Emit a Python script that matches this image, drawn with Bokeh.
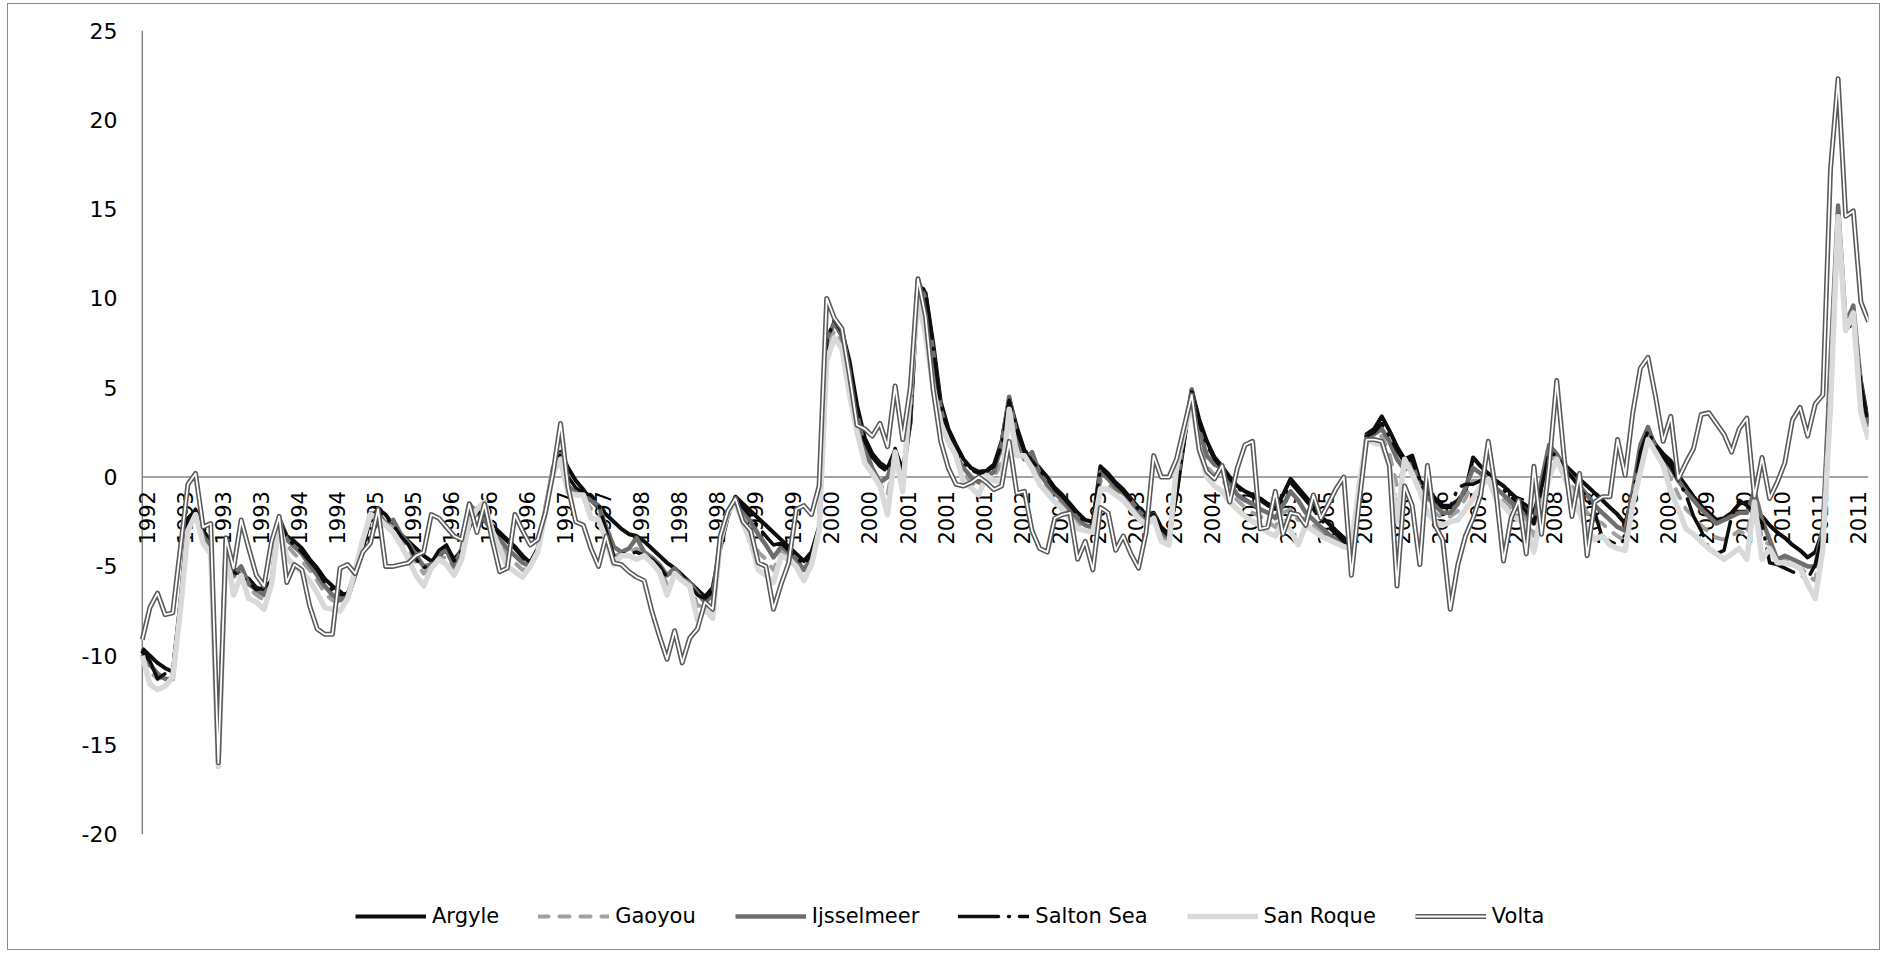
import math
from bokeh.plotting import figure
from bokeh.models import Range1d, FixedTicker, Legend, LegendItem, ColumnDataSource
from bokeh.core.properties import value
from bokeh.embed import file_html
from bokeh.resources import INLINE

# ---------------- data (monthly, Sep 1992 .. Aug 2011) ----------------
year_labels = ["1992", "1993", "1993", "1993", "1994", "1994", "1995", "1995",
               "1996", "1996", "1996", "1997", "1997", "1998", "1998", "1998",
               "1999", "1999", "2000", "2000", "2001", "2001", "2001", "2002",
               "2002", "2003", "2003", "2003", "2004", "2004", "2005", "2005",
               "2006", "2006", "2006", "2007", "2007", "2008", "2008", "2008",
               "2009", "2009", "2010", "2010", "2011", "2011"]
label_every = 5
y_ticks = [-20, -15, -10, -5, 0, 5, 10, 15, 20, 25]
y_tick_labels = ["-20", "-15", "-10", "-5", "0", "5", "10", "15", "20", "25"]

argyle = [
    -9.6, -10.0, -10.4, -10.7, -10.9, -7.0, -2.3, -1.9, -3.0, -3.6,
    -15.5, -3.5, -5.1, -5.5, -5.7, -6.2, -6.3, -5.9, -2.3, -3.3,
    -3.6, -4.0, -4.6, -5.1, -5.7, -6.1, -6.4, -6.8, -5.5, -4.0,
    -2.3, -1.8, -2.1, -2.7, -3.2, -3.6, -4.0, -4.4, -4.7, -4.5,
    -3.9, -4.6, -4.1, -2.8, -1.9, -2.2, -2.7, -3.1, -3.5, -3.9,
    -4.4, -4.8, -4.0, -2.0, 0.3, 1.4, 0.5, -0.2, -0.7, -1.3,
    -1.7, -2.1, -2.5, -2.9, -3.2, -3.3, -3.6, -4.0, -4.4, -4.8,
    -5.1, -5.5, -5.9, -6.3, -6.7, -6.2, -4.0, -2.2, -1.1, -1.5,
    -1.9, -2.3, -2.7, -3.1, -3.5, -3.9, -4.3, -4.7, -4.2, -2.8,
    7.5, 8.7, 8.2, 6.5, 4.0, 2.2, 1.3, 0.8, 0.5, 1.5,
    0.4, 3.0, 10.8, 10.3, 7.5, 4.2, 2.7, 1.8, 1.0, 0.5,
    0.3, 0.35, 0.7, 2.0, 4.4, 2.8, 1.5, 1.0, 0.5, 0.0,
    -0.6, -1.0, -1.5, -2.0, -2.4, -2.5, 0.6, 0.2, -0.3, -0.7,
    -1.2, -1.7, -2.1, -2.0, -2.8, -3.2, -1.0, 2.0, 4.9, 3.2,
    2.0, 1.1, 0.6, 0.0, -0.5, -0.8, -1.0, -1.2, -1.5, -1.7,
    -1.0, -0.1, -0.6, -1.1, -1.6, -2.2, -2.6, -3.0, -3.4, -3.7,
    -1.0, 2.4, 2.7, 3.4, 2.6, 1.7, 1.0, 1.2, -0.2, -0.6,
    -1.2, -1.6, -1.6, -1.3, -0.8, 1.1, 0.6, 0.2, -0.2, -0.5,
    -0.9, -1.3, -1.6, -2.0, -0.5, 1.3, 1.2, 0.7, 0.3, -0.1,
    -0.5, -0.9, -1.3, -1.7, -2.1, -2.6, -1.0, 1.6, 2.6, 1.8,
    1.3, 0.9, 0.1, -0.5, -1.1, -1.6, -2.0, -2.4, -2.3, -2.0,
    -1.5, -1.4, -1.8, -2.2, -2.7, -3.1, -3.4, -3.8, -4.1, -4.5,
    -4.2, -3.0, 6.0, 15.0, 8.3, 8.6, 5.4, 3.0]

gaoyou = [
    -10.1, -10.9, -11.3, -11.2, -11.0, -7.2, -2.8, -2.2, -3.5, -4.0,
    -15.9, -3.8, -5.6, -5.3, -6.2, -6.6, -6.9, -5.9, -2.4, -3.8,
    -4.3, -4.7, -5.2, -5.8, -6.5, -6.9, -7.0, -6.7, -5.4, -3.6,
    -2.0, -2.1, -2.6, -2.8, -3.4, -4.0, -4.8, -5.4, -5.0, -4.5,
    -4.5, -5.2, -4.3, -2.0, -1.7, -1.8, -2.8, -3.7, -4.4, -4.8,
    -5.2, -5.0, -4.1, -1.9, 0.4, 1.2, -0.7, -1.0, -1.1, -1.8,
    -2.0, -3.2, -4.4, -4.3, -4.2, -4.0, -4.3, -4.6, -5.1, -6.0,
    -5.2, -5.8, -6.0, -7.2, -7.2, -7.3, -3.6, -2.0, -1.3, -2.2,
    -3.0, -4.2, -4.6, -5.2, -4.2, -4.4, -4.8, -5.5, -4.7, -3.0,
    7.2, 8.2, 7.6, 5.2, 3.0, 1.2, 0.4, -0.4, -1.0, 1.3,
    -0.4, 4.0, 10.5, 9.2, 6.2, 3.4, 2.1, 1.2, 0.2, -0.3,
    -0.6, 0.0, 0.0, 0.8, 4.2, 1.8, 1.1, 0.9, -0.1, -0.6,
    -1.1, -1.5, -2.0, -2.6, -2.8, -2.9, -0.2, -0.4, -0.8, -1.1,
    -1.5, -2.1, -2.5, -2.2, -3.3, -3.6, -0.2, 2.4, 4.6, 2.0,
    0.6, 0.1, -0.1, -0.8, -1.3, -1.7, -2.0, -2.2, -2.5, -2.8,
    -2.0, -1.8, -2.4, -2.3, -2.7, -3.0, -3.3, -3.6, -3.8, -3.9,
    -0.6, 2.2, 2.2, 2.3, 1.3, -0.5, 0.6, 0.2, -0.7, -1.5,
    -2.0, -2.3, -2.2, -1.9, -1.2, -0.2, -0.2, -0.2, -0.9, -1.3,
    -1.7, -2.1, -2.4, -3.3, -1.0, 1.0, 1.1, 0.3, -0.5, -1.2,
    -2.0, -2.4, -2.6, -3.0, -3.3, -3.6, -1.2, 1.0, 2.5, 1.5,
    0.8, -0.1, -1.0, -1.8, -2.2, -2.7, -3.1, -3.4, -3.5, -3.3,
    -3.0, -3.3, -1.1, -3.5, -3.8, -4.7, -4.6, -4.8, -5.0, -5.5,
    -5.8, -3.4, 5.0, 14.8, 8.4, 9.4, 4.5, 2.5]

ijsselmeer = [
    -9.9, -10.5, -11.0, -11.3, -11.3, -7.3, -2.6, -2.0, -3.3, -3.9,
    -15.8, -3.6, -5.5, -5.0, -6.0, -6.3, -6.6, -5.8, -2.3, -3.5,
    -3.9, -4.3, -4.9, -5.5, -6.1, -6.6, -6.9, -6.6, -5.3, -3.6,
    -2.1, -2.0, -2.6, -2.4, -3.2, -3.7, -4.4, -5.0, -4.9, -4.3,
    -4.1, -5.0, -4.0, -1.5, -2.0, -2.4, -3.0, -3.5, -4.0, -4.4,
    -4.8, -5.0, -4.1, -1.8, 0.5, 1.3, -0.5, -0.9, -1.0, -1.3,
    -1.6, -2.8, -3.9, -4.2, -4.0, -3.4, -4.2, -4.5, -4.9, -5.5,
    -5.1, -5.7, -5.9, -6.5, -7.0, -6.6, -3.5, -1.9, -1.2, -1.8,
    -2.5, -3.2, -3.8, -4.5, -3.9, -4.2, -4.6, -5.2, -4.5, -2.9,
    7.8, 8.6, 7.9, 5.8, 3.5, 1.6, 0.5, -0.3, 0.0, 1.2,
    0.0, 3.2, 11.0, 10.0, 7.0, 3.8, 2.2, 1.2, 0.5, 0.0,
    -0.3, 0.0, 0.3, 1.8, 4.5, 2.3, 1.0, 1.4, 0.2, -0.4,
    -0.9, -1.3, -1.8, -2.3, -2.7, -2.8, 0.3, -0.1, -0.6, -0.9,
    -1.3, -1.9, -2.3, -2.1, -3.1, -3.4, -0.6, 2.3, 4.9, 2.6,
    1.2, 0.7, 0.5, -0.3, -1.0, -1.3, -1.5, -1.8, -2.0, -2.3,
    -1.6, -0.8, -1.3, -2.0, -2.4, -2.8, -3.2, -3.5, -3.7, -3.9,
    -0.8, 2.3, 2.4, 2.7, 2.0, 1.0, 0.4, 0.8, -0.6, -1.1,
    -1.6, -2.0, -2.0, -1.5, -0.6, 0.5, 0.2, -0.2, -0.6, -1.0,
    -1.4, -1.8, -2.1, -2.6, -0.2, 1.8, 1.3, 0.5, 0.0, -0.5,
    -1.0, -1.6, -2.0, -2.4, -2.8, -3.0, -0.8, 1.8, 2.8, 1.6,
    1.0, 0.5, -0.2, -0.8, -1.3, -1.8, -2.2, -2.6, -2.4, -2.2,
    -2.0, -2.0, -0.8, -2.4, -3.5, -4.6, -4.4, -4.6, -4.8, -5.0,
    -5.0, -2.8, 6.5, 15.2, 8.6, 9.6, 5.2, 2.8]

salton_sea = [
    -9.8, -10.3, -11.3, -11.0, -10.7, -7.2, -2.4, -1.8, -2.8, -3.4,
    -15.4, -3.4, -5.3, -5.6, -5.9, -6.3, -6.2, -5.8, -2.4, -3.4,
    -3.8, -4.2, -4.7, -5.2, -5.9, -6.3, -6.6, -6.5, -5.4, -3.8,
    -2.2, -1.9, -2.2, -2.7, -3.3, -3.8, -4.6, -5.1, -4.8, -4.1,
    -3.8, -4.7, -4.1, -2.6, -1.9, -2.3, -2.8, -3.2, -3.6, -4.0,
    -4.5, -4.9, -4.0, -2.0, 0.3, 1.3, 0.0, -0.6, -0.9, -1.0,
    -1.5, -3.0, -4.4, -4.3, -4.3, -4.2, -4.4, -4.6, -5.0, -5.6,
    -5.4, -5.8, -6.1, -6.6, -6.8, -6.4, -3.8, -2.1, -1.1, -1.7,
    -2.2, -2.8, -3.3, -3.8, -3.7, -4.1, -4.5, -4.9, -4.3, -2.8,
    7.6, 8.8, 8.1, 6.2, 3.8, 2.0, 1.1, 0.6, 0.3, 1.6,
    0.2, 3.1, 10.9, 10.4, 7.3, 4.0, 2.5, 1.6, 0.8, 0.4,
    0.2, 0.3, 0.6, 1.8, 4.3, 2.6, 1.4, 0.9, 0.4, -0.1,
    -0.7, -1.1, -1.6, -2.1, -2.5, -2.6, 0.5, 0.1, -0.4, -0.8,
    -1.3, -1.8, -2.2, -2.1, -2.9, -3.3, -1.0, 2.0, 4.8, 3.0,
    1.8, 1.0, 0.5, -0.1, -0.6, -0.9, -1.1, -1.3, -1.6, -1.8,
    -1.2, -0.3, -0.8, -1.3, -1.8, -2.4, -2.8, -3.2, -3.6, -3.9,
    -1.2, 2.3, 2.5, 3.0, 2.3, 1.5, 0.8, 1.0, -0.4, -0.8,
    -1.3, -1.7, -1.7, -0.6, -0.4, -0.4, -0.2, 0.0, -0.4, -0.7,
    -1.1, -1.5, -1.9, -2.6, -0.6, 1.4, 1.2, 0.5, 0.0, -0.6,
    -1.2, -2.0, -3.4, -3.6, -3.8, -3.5, -1.2, 1.4, 2.6, 1.7,
    1.1, 0.6, -0.2, -1.0, -2.2, -3.0, -4.0, -4.3, -4.1, -2.2,
    -1.3, -1.6, -2.0, -2.6, -4.8, -4.9, -5.1, -5.3, -5.5, -5.7,
    -4.9, -3.2, 5.5, 14.8, 8.4, 8.9, 5.2, 2.9]

san_roque = [
    -10.0, -11.6, -11.9, -11.7, -11.2, -7.5, -3.0, -2.1, -3.7, -4.3,
    -16.2, -4.0, -6.6, -5.5, -6.8, -7.0, -7.4, -6.0, -2.5, -4.5,
    -5.0, -5.3, -5.8, -6.5, -7.3, -7.4, -7.5, -6.8, -5.2, -3.5,
    -2.1, -2.3, -2.7, -3.1, -3.8, -4.6, -5.5, -6.1, -5.1, -4.6,
    -4.9, -5.5, -4.6, -2.5, -1.8, -1.4, -3.0, -4.0, -5.0, -5.3,
    -5.6, -5.0, -4.2, -2.0, 0.2, 1.0, -0.9, -1.0, -1.0, -2.3,
    -2.4, -3.5, -4.9, -4.4, -4.4, -4.6, -4.4, -4.8, -5.3, -6.6,
    -5.4, -5.8, -6.1, -8.0, -7.4, -7.9, -3.6, -2.0, -1.4, -2.6,
    -3.6, -5.2, -5.5, -5.9, -4.4, -4.6, -5.0, -5.8, -4.9, -3.0,
    6.5, 7.8, 7.2, 4.6, 2.5, 0.8, 0.2, -0.5, -2.1, 1.4,
    -0.8, 4.9, 10.0, 8.0, 5.0, 3.0, 2.0, 1.2, -0.3, -0.6,
    -1.0, 0.1, -0.2, -0.3, 3.8, 1.2, 1.2, 0.5, -0.4, -0.9,
    -1.4, -1.8, -2.3, -2.9, -3.0, -3.1, -0.65, -0.7, -1.0, -1.3,
    -1.8, -2.3, -2.7, -2.3, -3.6, -3.8, 0.5, 2.5, 4.2, 1.5,
    0.0, -0.5, -0.8, -1.4, -1.8, -2.2, -2.5, -2.7, -3.1, -3.3,
    -2.5, -3.0, -3.8, -2.7, -3.0, -3.3, -3.5, -3.7, -3.9, -4.0,
    -0.5, 2.1, 1.9, 1.8, 0.65, -2.5, 1.0, 0.2, -0.8, -2.0,
    -2.5, -2.7, -2.5, -2.4, -1.8, -1.2, -0.5, -0.1, -1.2, -1.6,
    -2.1, -2.4, -2.7, -4.2, -2.0, 0.0, 1.0, 0.0, -1.0, -2.0,
    -3.0, -3.5, -3.3, -3.8, -4.0, -4.1, -1.5, 0.3, 2.1, 1.4,
    0.65, -0.8, -1.8, -2.9, -3.2, -3.6, -4.0, -4.3, -4.6, -4.3,
    -4.0, -4.6, -1.4, -4.6, -4.0, -4.8, -4.8, -4.9, -5.1, -6.0,
    -6.8, -4.0, 4.0, 14.6, 8.2, 9.2, 3.6, 2.1]

volta = [
    -9.1, -7.3, -6.5, -7.7, -7.6, -4.0, -0.4, 0.2, -2.8, -2.6,
    -16.0, -3.4, -5.1, -2.4, -4.0, -5.5, -6.1, -3.6, -2.2, -5.9,
    -4.9, -5.2, -7.2, -8.5, -8.8, -8.8, -5.1, -4.9, -5.4, -4.2,
    -3.7, -1.8, -5.0, -5.0, -4.9, -4.8, -4.4, -4.2, -2.1, -2.3,
    -2.8, -3.3, -3.5, -1.5, -3.1, -1.5, -3.5, -5.3, -5.1, -2.1,
    -3.0, -3.8, -3.5, -2.0, 0.2, 3.0, -0.6, -2.5, -2.7, -4.0,
    -5.0, -3.3, -4.8, -4.9, -5.3, -5.6, -5.8, -7.5, -8.9, -10.2,
    -8.6, -10.4, -9.0, -8.5, -7.0, -7.4, -3.3, -1.9, -1.2, -2.5,
    -3.0, -4.8, -5.0, -7.4, -6.0, -4.8, -1.8, -1.6, -2.1, -0.5,
    10.0, 8.9, 8.3, 5.7, 2.9, 2.7, 2.3, 3.0, 1.7, 5.1,
    2.1, 5.0, 11.1, 9.0, 4.9, 2.0, 0.5, -0.4, -0.5, -0.3,
    0.0, -0.3, -0.7, -0.5, 2.0, -0.9, -0.8, -3.0, -4.0, -4.2,
    -2.3, -2.1, -2.0, -4.6, -3.6, -5.2, -1.7, -2.0, -4.1, -3.3,
    -4.3, -5.1, -3.1, 1.2, 0.0, 0.0, 1.0, 2.8, 4.6, 1.5,
    0.3, -0.1, 0.65, -1.4, 0.5, 1.8, 2.0, -2.9, -2.8, -0.8,
    -3.2, -2.0, -2.1, -2.7, -1.0, -2.3, -1.5, -0.65, 0.0, -5.5,
    -1.5, 2.1, 2.1, 2.0, 0.65, -6.1, -0.5, -1.6, -4.9, 0.65,
    -2.7, -3.5, -7.4, -4.9, -3.3, -2.3, -1.0, 2.0, -0.8, -4.7,
    -2.3, -1.3, -4.3, 0.6, -3.2, 0.65, 5.4, 1.0, -2.2, 0.2,
    -4.4, -1.4, -1.1, -1.1, 2.1, 0.1, 3.6, 6.1, 6.7, 4.5,
    2.0, 3.4, -0.1, 0.8, 1.6, 3.5, 3.6, 3.0, 2.4, 1.4,
    2.7, 3.3, -1.1, 1.1, -1.2, -0.3, 0.8, 3.2, 3.9, 2.3,
    4.1, 4.6, 17.2, 22.3, 14.6, 14.9, 9.8, 8.7]

# ---------------- figure ----------------
n = len(argyle)
month = list(range(n))
src = ColumnDataSource(dict(month=month, argyle=argyle, gaoyou=gaoyou,
                            ijsselmeer=ijsselmeer, salton=salton_sea,
                            sanroque=san_roque, volta=volta))

AX = "#868686"
FONT = "DejaVu Sans"

# the frame reaches down to the legend row; the value axis itself spans -20..25
p = figure(width=1873, height=947, output_backend="svg", toolbar_location=None,
           x_range=Range1d(-3, n - 1), y_range=Range1d(-26.0, 25),
           x_axis_location=None,
           min_border_left=111, min_border_right=13,
           min_border_top=26, min_border_bottom=10)
p.styles = {"border": "1px solid #8c8c8c", "margin": "3px 0px 0px 7px"}
p.outline_line_color = None
p.xgrid.visible = False
p.ygrid.visible = False
p.background_fill_color = "white"
p.border_fill_color = "white"

ya = p.yaxis[0]
ya.ticker = FixedTicker(ticks=y_ticks)
ya.major_label_overrides = {t: lab for t, lab in zip(y_ticks, y_tick_labels)}
ya.major_label_text_font = FONT
ya.major_label_text_font_size = "22px"
ya.major_label_text_color = "#000000"
ya.major_label_standoff = -4
ya.major_tick_line_color = None
ya.minor_tick_line_color = None
ya.axis_line_color = None

# axis lines (value axis at the first month, category axis on zero)
p.segment(x0=[month[0]], y0=[y_ticks[0]], x1=[month[0]], y1=[y_ticks[-1]],
          line_color=AX, line_width=1.5)
p.segment(x0=[month[0]], y0=[0], x1=[month[-1]], y1=[0],
          line_color=AX, line_width=1.5)

# category labels hanging under the zero line, rotated
label_shift = 0.625
tick_pos = [k * label_every + label_shift for k in range(len(year_labels))]
p.text(x=tick_pos, y=[0] * len(tick_pos), text=year_labels, angle=math.pi / 2,
       text_align="right", text_baseline="middle", y_offset=14,
       text_font=value(FONT), text_font_size="21px", text_color="#000000")

r_arg = p.line("month", "argyle", source=src, line_color="#0d0d0d", line_width=4,
               line_join="round")
r_gao = p.line("month", "gaoyou", source=src, line_color="#a0a0a0", line_width=4,
               line_dash="10 11", line_cap="round", line_join="round")
r_ijs = p.line("month", "ijsselmeer", source=src, line_color="#6e6e6e", line_width=4.5,
               line_join="round")
r_sal = p.line("month", "salton", source=src, line_color="#0d0d0d", line_width=3.5,
               line_dash="40 10 1 10", line_cap="round", line_join="round")
r_sro = p.line("month", "sanroque", source=src, line_color="#d9d9d9", line_width=5.5,
               line_join="round")
r_vo1 = p.line("month", "volta", source=src, line_color="#5a5a5a", line_width=5,
               line_join="round")
r_vo2 = p.line("month", "volta", source=src, line_color="#ffffff", line_width=1.8,
               line_join="round")

legend = Legend(items=[
    LegendItem(label="Argyle", renderers=[r_arg]),
    LegendItem(label="Gaoyou", renderers=[r_gao]),
    LegendItem(label="Ijsselmeer", renderers=[r_ijs]),
    LegendItem(label="Salton Sea", renderers=[r_sal]),
    LegendItem(label="San Roque", renderers=[r_sro]),
    LegendItem(label="Volta", renderers=[r_vo1, r_vo2]),
], orientation="horizontal", location=(236, 13),
    glyph_width=71, glyph_height=20, label_height=20, label_standoff=6, spacing=39,
    padding=0, margin=0, border_line_color=None, background_fill_alpha=0,
    label_text_font=FONT, label_text_font_size="21px", label_text_color="#000000")
p.add_layout(legend, "center")

open("out.html", "w").write(file_html(p, INLINE))
